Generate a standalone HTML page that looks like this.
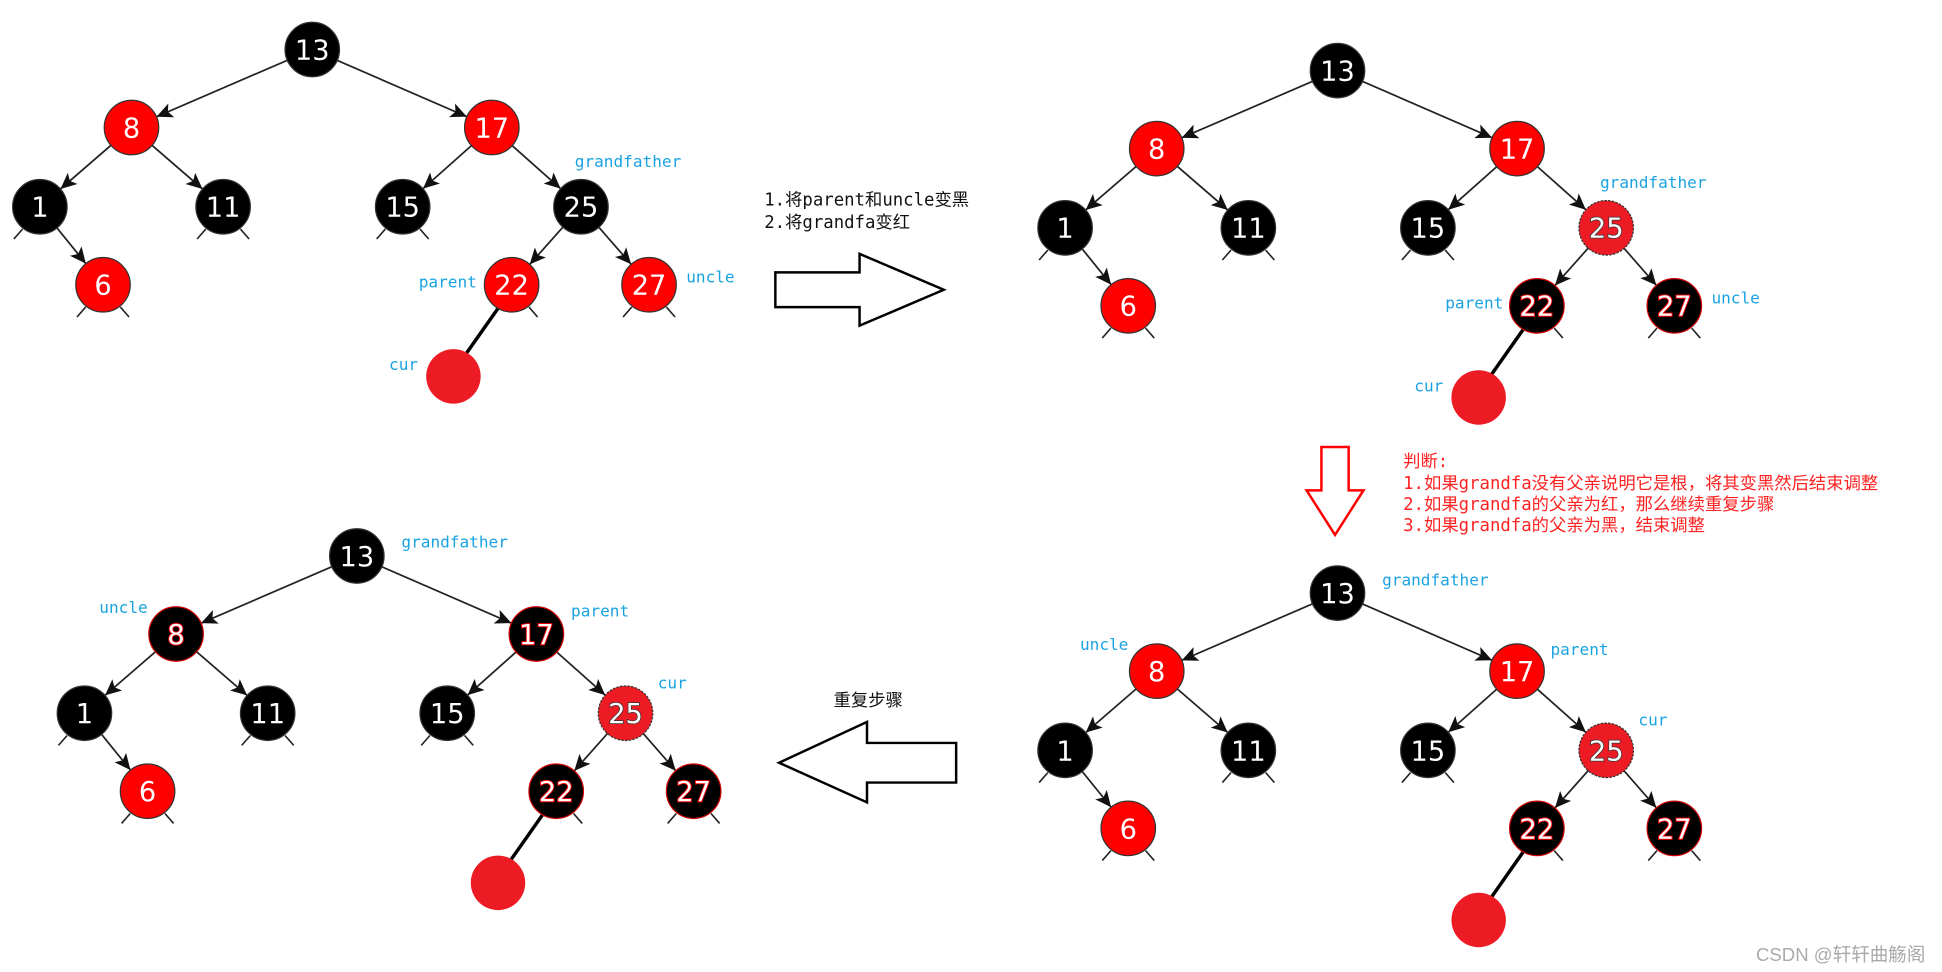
<!DOCTYPE html>
<html><head><meta charset="utf-8"><style>
html,body{margin:0;padding:0;background:#fff;}
svg{display:block;}
.n text{font-family:"DejaVu Sans","Liberation Sans",sans-serif;font-size:22px;fill:#fff;text-anchor:middle;}
.lb{font-family:"DejaVu Sans Mono","Liberation Mono",monospace;font-size:13px;fill:#1aa3e0;}
.cn{font-family:"DejaVu Sans Mono","Liberation Mono","Noto Sans CJK SC",monospace;font-size:14px;}
</style></head><body>
<svg width="1942" height="972" viewBox="0 0 1568 785" xmlns="http://www.w3.org/2000/svg">
<defs>
<marker id="ar" markerUnits="userSpaceOnUse" viewBox="-15 -8 45 16" markerWidth="45" markerHeight="16" refX="22" refY="0" orient="auto">
<path d="M-13,-6 L0,0 L-13,6 L-10,0 Z" fill="#111"/>
</marker>
<g id="tl"><line x1="-14" y1="18" x2="-21" y2="26" stroke="#222" stroke-width="1.3"/></g>
<g id="tr"><line x1="14" y1="18" x2="21" y2="26" stroke="#222" stroke-width="1.3"/></g>
<g id="edges" stroke="#222" stroke-width="1.4" marker-end="url(#ar)">
<line x1="252" y1="40" x2="106" y2="103"/>
<line x1="252" y1="40" x2="397" y2="103"/>
<line x1="106" y1="103" x2="32" y2="167"/>
<line x1="106" y1="103" x2="180" y2="167"/>
<line x1="32" y1="167" x2="83" y2="230"/>
<line x1="397" y1="103" x2="325" y2="167"/>
<line x1="397" y1="103" x2="469" y2="167"/>
<line x1="469" y1="167" x2="413" y2="230"/>
<line x1="469" y1="167" x2="524" y2="230"/>
</g>
<g id="base">
<use href="#edges"/>
<line x1="402" y1="249" x2="376" y2="286" stroke="#000" stroke-width="2.8"/>
<use href="#tl" x="32" y="167"/>
<use href="#tl" x="180" y="167"/><use href="#tr" x="180" y="167"/>
<use href="#tl" x="83" y="230"/><use href="#tr" x="83" y="230"/>
<use href="#tl" x="325" y="167"/><use href="#tr" x="325" y="167"/>
<use href="#tr" x="413" y="230"/>
<use href="#tl" x="524" y="230"/><use href="#tr" x="524" y="230"/>
<circle cx="366" cy="304" r="22" fill="#ed1c24"/>
</g>
</defs>

<!-- Tree 1 -->
<g>
<use href="#base"/>
<g class="n" stroke="#333" stroke-width="1">
<circle cx="252" cy="40" r="22" fill="#000"/><circle cx="106" cy="103" r="22" fill="#f00"/><circle cx="397" cy="103" r="22" fill="#f00"/>
<circle cx="32" cy="167" r="22" fill="#000"/><circle cx="180" cy="167" r="22" fill="#000"/><circle cx="83" cy="230" r="22" fill="#f00"/>
<circle cx="325" cy="167" r="22" fill="#000"/><circle cx="469" cy="167" r="22" fill="#000"/><circle cx="413" cy="230" r="22" fill="#f00"/><circle cx="524" cy="230" r="22" fill="#f00"/>
</g>
<g class="n">
<text x="252" y="48">13</text><text x="106" y="111">8</text><text x="397" y="111">17</text><text x="32" y="175">1</text><text x="180" y="175">11</text><text x="83" y="238">6</text><text x="325" y="175">15</text><text x="469" y="175">25</text><text x="413" y="238">22</text><text x="524" y="238">27</text>
</g>
</g>

<!-- Tree 2 -->
<g transform="translate(828,17)">
<use href="#base"/>
<g class="n" stroke="#333" stroke-width="1">
<circle cx="252" cy="40" r="22" fill="#000"/><circle cx="106" cy="103" r="22" fill="#f00"/><circle cx="397" cy="103" r="22" fill="#f00"/>
<circle cx="32" cy="167" r="22" fill="#000"/><circle cx="180" cy="167" r="22" fill="#000"/><circle cx="83" cy="230" r="22" fill="#f00"/>
<circle cx="325" cy="167" r="22" fill="#000"/><circle cx="469" cy="167" r="22" fill="#ed1c24" stroke-dasharray="2 1"/><circle cx="413" cy="230" r="22" fill="#000" stroke="#c00"/><circle cx="524" cy="230" r="22" fill="#000" stroke="#c00"/>
</g>
<g class="n">
<text x="252" y="48">13</text><text x="106" y="111">8</text><text x="397" y="111">17</text><text x="32" y="175">1</text><text x="180" y="175">11</text><text x="83" y="238">6</text><text x="325" y="175">15</text>
<text x="469" y="175" stroke="#333" stroke-width="1.2" paint-order="stroke">25</text>
<text x="413" y="238" stroke="#f00" stroke-width="1.5" paint-order="stroke">22</text><text x="524" y="238" stroke="#f00" stroke-width="1.5" paint-order="stroke">27</text>
</g>
</g>

<!-- Tree 3 -->
<g transform="translate(36,409)">
<use href="#base"/>
<g class="n" stroke="#333" stroke-width="1">
<circle cx="252" cy="40" r="22" fill="#000"/><circle cx="106" cy="103" r="22" fill="#000" stroke="#c00"/><circle cx="397" cy="103" r="22" fill="#000" stroke="#c00"/>
<circle cx="32" cy="167" r="22" fill="#000"/><circle cx="180" cy="167" r="22" fill="#000"/><circle cx="83" cy="230" r="22" fill="#f00"/>
<circle cx="325" cy="167" r="22" fill="#000"/><circle cx="469" cy="167" r="22" fill="#ed1c24" stroke-dasharray="2 1"/><circle cx="413" cy="230" r="22" fill="#000" stroke="#c00"/><circle cx="524" cy="230" r="22" fill="#000" stroke="#c00"/>
</g>
<g class="n">
<text x="252" y="48">13</text>
<text x="106" y="111" stroke="#f00" stroke-width="1.5" paint-order="stroke">8</text><text x="397" y="111" stroke="#f00" stroke-width="1.5" paint-order="stroke">17</text>
<text x="32" y="175">1</text><text x="180" y="175">11</text><text x="83" y="238">6</text><text x="325" y="175">15</text>
<text x="469" y="175" stroke="#333" stroke-width="1.2" paint-order="stroke">25</text>
<text x="413" y="238" stroke="#f00" stroke-width="1.5" paint-order="stroke">22</text><text x="524" y="238" stroke="#f00" stroke-width="1.5" paint-order="stroke">27</text>
</g>
</g>

<!-- Tree 4 -->
<g transform="translate(828,439)">
<use href="#base"/>
<g class="n" stroke="#333" stroke-width="1">
<circle cx="252" cy="40" r="22" fill="#000"/><circle cx="106" cy="103" r="22" fill="#f00"/><circle cx="397" cy="103" r="22" fill="#f00"/>
<circle cx="32" cy="167" r="22" fill="#000"/><circle cx="180" cy="167" r="22" fill="#000"/><circle cx="83" cy="230" r="22" fill="#f00"/>
<circle cx="325" cy="167" r="22" fill="#000"/><circle cx="469" cy="167" r="22" fill="#ed1c24" stroke-dasharray="2 1"/><circle cx="413" cy="230" r="22" fill="#000" stroke="#c00"/><circle cx="524" cy="230" r="22" fill="#000" stroke="#c00"/>
</g>
<g class="n">
<text x="252" y="48">13</text><text x="106" y="111">8</text><text x="397" y="111">17</text><text x="32" y="175">1</text><text x="180" y="175">11</text><text x="83" y="238">6</text><text x="325" y="175">15</text>
<text x="469" y="175" stroke="#333" stroke-width="1.2" paint-order="stroke">25</text>
<text x="413" y="238" stroke="#f00" stroke-width="1.5" paint-order="stroke">22</text><text x="524" y="238" stroke="#f00" stroke-width="1.5" paint-order="stroke">27</text>
</g>
</g>

<!-- labels -->
<g class="lb">
<text x="464" y="135">grandfather</text><text x="338" y="232">parent</text><text x="554" y="228">uncle</text><text x="314" y="299">cur</text>
<text x="1292" y="152">grandfather</text><text x="1167" y="249">parent</text><text x="1382" y="245">uncle</text><text x="1142" y="316">cur</text>
<text x="324" y="442">grandfather</text><text x="80" y="495">uncle</text><text x="461" y="498">parent</text><text x="531" y="556">cur</text>
<text x="1116" y="473">grandfather</text><text x="872" y="525">uncle</text><text x="1252" y="529">parent</text><text x="1323" y="586">cur</text>
</g>

<!-- arrows -->
<polygon points="626,220 694,220 694,205 762,234 694,263 694,248 626,248" fill="#fff" stroke="#000" stroke-width="2"/>
<polygon points="629,616 700,583 700,600 772,600 772,632 700,632 700,648" fill="#fff" stroke="#000" stroke-width="2"/>
<polygon points="1067,361 1089,361 1089,396 1101,396 1078,432 1055,396 1067,396" fill="#fff" stroke="#f00" stroke-width="2"/>

<g class="cn" fill="#111">
<text x="617" y="166">1.将parent和uncle变黑</text>
<text x="617" y="184">2.将grandfa变红</text>
<text x="673" y="570" font-family="'Noto Sans CJK SC',sans-serif">重复步骤</text>
</g>
<g class="cn" fill="#f22">
<text x="1133" y="377">判断:</text>
<text x="1133" y="395">1.如果grandfa没有父亲说明它是根，将其变黑然后结束调整</text>
<text x="1133" y="412">2.如果grandfa的父亲为红，那么继续重复步骤</text>
<text x="1133" y="429">3.如果grandfa的父亲为黑，结束调整</text>
</g>
<text x="1418" y="776" font-family="'Liberation Sans','Noto Sans CJK SC',sans-serif" font-size="15" fill="#aaa">CSDN @轩轩曲觞阁</text>
</svg>
</body></html>
